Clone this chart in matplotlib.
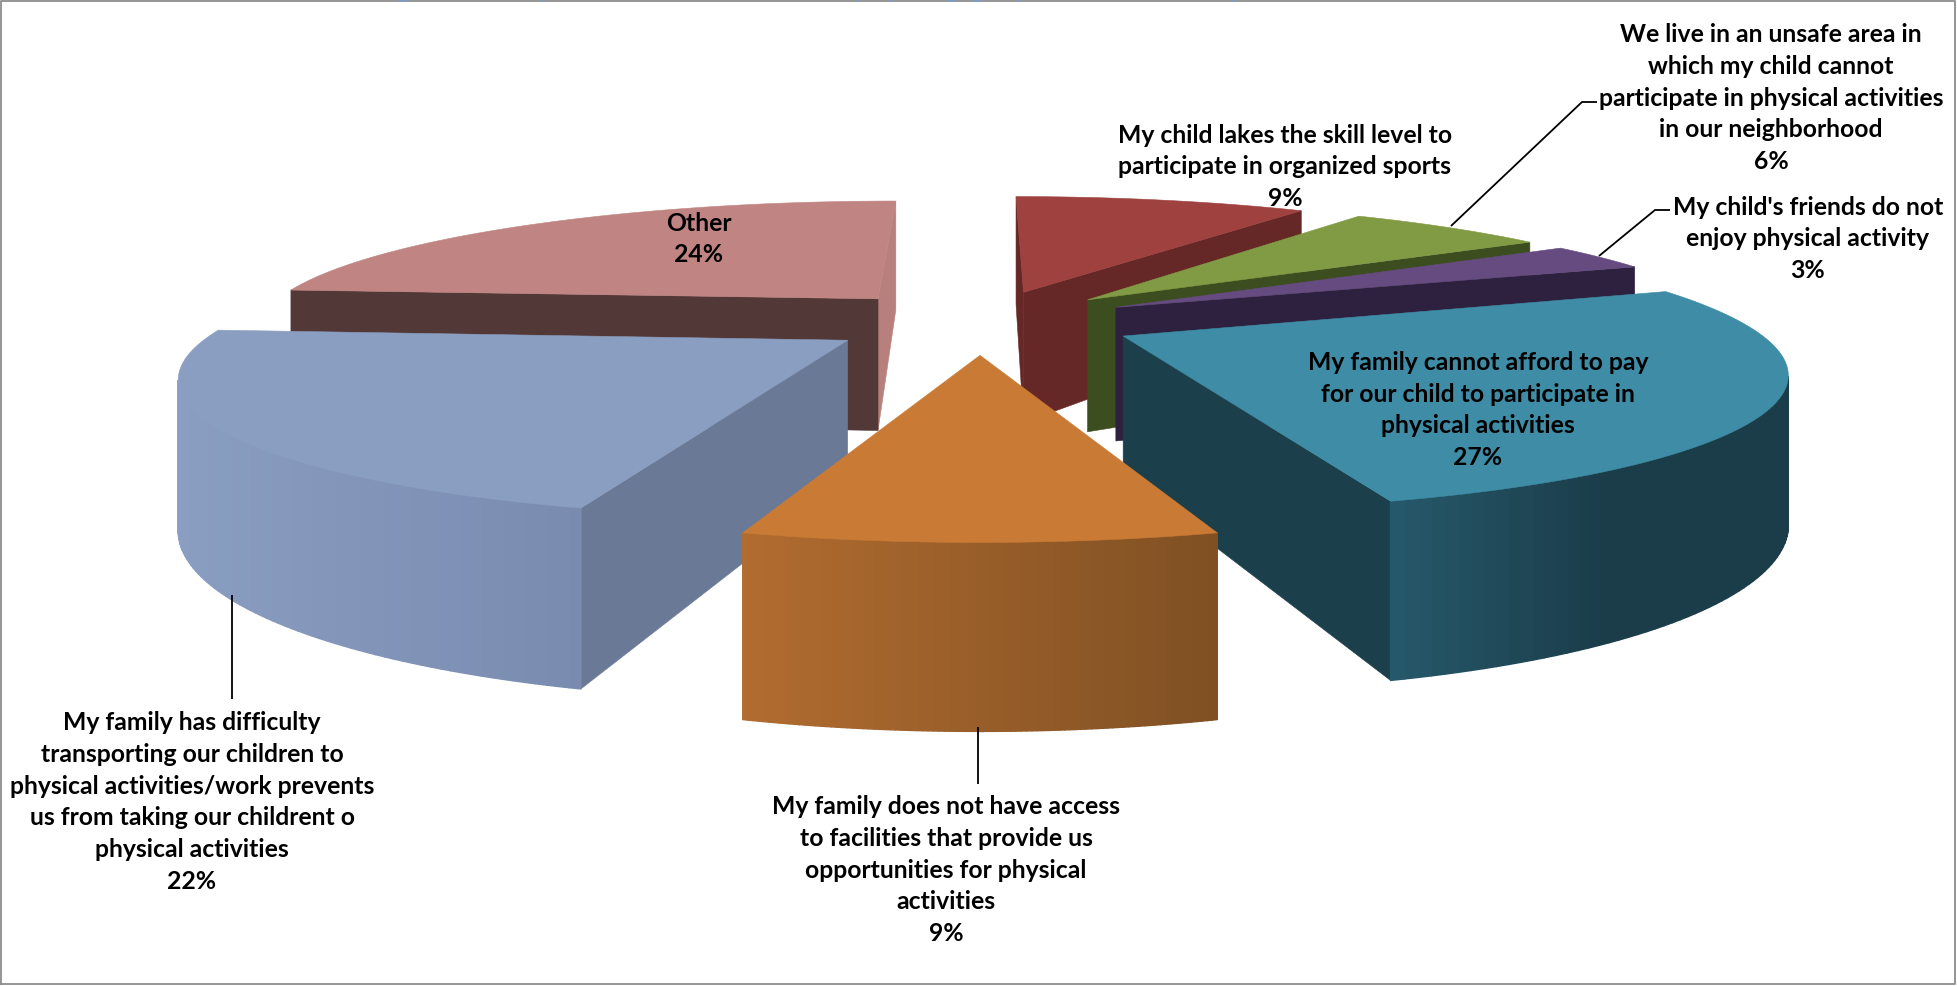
import numpy as np
import matplotlib
matplotlib.use("Agg")
import matplotlib.pyplot as plt
from matplotlib.collections import PolyCollection
from matplotlib.colors import to_rgb

# ---- data (clockwise from 12 o'clock) ----
percent_labels = [9, 6, 3, 27, 9, 22, 24]
# angular share of each slice as it reads in the perspective drawing
shares = [9.5, 6.4, 3.3, 26.3, 9.0, 21.7, 23.8]
labels = [
    "My child lakes the skill level to\nparticipate in organized sports",
    "We live in an unsafe area in\nwhich my child cannot\nparticipate in physical activities\nin our neighborhood",
    "My child's friends do not\nenjoy physical activity",
    "My family cannot afford to pay\nfor our child to participate in\nphysical activities",
    "My family does not have access\nto facilities that provide us\nopportunities for physical\nactivities",
    "My family has difficulty\ntransporting our children to\nphysical activities/work prevents\nus from taking our childrent o\nphysical activities",
    "Other",
]
top_colors = ["#9E413F", "#819B45", "#664B80", "#3E8CA5", "#C97A35", "#8A9EC1", "#C08583"]
wall_left = ["#9E413F", "#819B45", "#664B80", "#265A6C", "#B26C30", "#8A9EC1", "#C08583"]
wall_right = ["#7A302E", "#5A6E30", "#463358", "#1B3C49", "#7F5023", "#7A8BB0", "#C08583"]
wall_fade = [1, 1, 1, 0.55, 1, 1, 1]
start_face = ["#662826", "#3C4D20", "#2E2140", "#1C3F4C", "#7F5023", "#6A7A96", "#533838"]
end_face = ["#662826", "#3C4D20", "#2E2140", "#1C3F4C", "#B26C30", "#6A7A96", "#B8807D"]
label_pos = [(1285, 167), (1771, 98), (1808, 239), (1478, 410), (946, 870), (192, 802), (699, 239)]

W, H = 1957, 987
# camera of the 3-D pie
CX, CY, AX, BY, DEPTH, PERSP, EXPLODE = 980, 322.4, 624, 128.2, 137, 0.22, 0.25


def project(x, y, z):
    w = 1 + PERSP * y
    return CX + AX * x / w, CY - BY * y / w + DEPTH * z / w


def signed_area(p):
    s = 0
    for i in range(len(p)):
        x0, y0 = p[i]
        x1, y1 = p[(i + 1) % len(p)]
        s += x0 * y1 - x1 * y0
    return s


fig = plt.figure(figsize=(W / 100, H / 100), dpi=100, facecolor="white")
ax = fig.add_axes([0, 0, 1, 1])
ax.set_xlim(0, W)
ax.set_ylim(H, 0)
ax.axis("off")

fractions = np.cumsum([0] + shares) / sum(shares) * 2 * np.pi
paint_order = [6, 0, 1, 2, 5, 3, 4]

for z_i, i in enumerate(paint_order):
    t0, t1 = fractions[i], fractions[i + 1]
    mid = (t0 + t1) / 2
    ox, oy = EXPLODE * np.sin(mid), EXPLODE * np.cos(mid)
    th = np.linspace(t0, t1, 90)
    rx, ry = ox + np.sin(th), oy + np.cos(th)
    apex_t, apex_b = project(ox, oy, 0), project(ox, oy, 1)
    rim_t = [project(x, y, 0) for x, y in zip(rx, ry)]
    rim_b = [project(x, y, 1) for x, y in zip(rx, ry)]

    faces = [
        ([rim_t[-1], apex_t, apex_b, rim_b[-1]], end_face[i]),
        ([apex_t, rim_t[0], rim_b[0], apex_b], start_face[i]),
    ]
    for pts, col in faces:
        if signed_area(pts) < 0:
            ax.fill(*zip(*pts), color=col, lw=0.4, zorder=z_i * 10 + 1)

    polys, cols = [], []
    xs = np.array([p[0] for p in rim_t])
    lo, hi = xs.min(), xs.max()
    cl, cr = np.array(to_rgb(wall_left[i])), np.array(to_rgb(wall_right[i]))
    for k in range(len(th) - 1):
        pts = [rim_t[k], rim_t[k + 1], rim_b[k + 1], rim_b[k]]
        if signed_area(pts) < 0:
            f = min(1.0, (xs[k] - lo) / max(hi - lo, 1) / wall_fade[i])
            polys.append(pts)
            cols.append(tuple(cl + (cr - cl) * f))
    if polys:
        ax.add_collection(PolyCollection(polys, facecolors=cols, edgecolors=cols,
                                         linewidths=1.0, zorder=z_i * 10 + 2))
    ax.fill(*zip(*([apex_t] + rim_t)), color=top_colors[i], lw=0.4, zorder=z_i * 10 + 3)

# leader lines
leaders = [
    [(1451, 227), (1582, 103), (1597, 103)],
    [(1599, 257), (1655, 211), (1670, 211)],
    [(231.5, 596), (231.5, 700)],
    [(978, 728), (978, 785)],
]
for seg in leaders:
    ax.plot(*zip(*seg), color="black", lw=1.3, zorder=200, solid_capstyle="butt")

# labels
for i, (lab, (x, y)) in enumerate(zip(labels, label_pos)):
    ax.text(x, y, f"{lab}\n{percent_labels[i]}%", ha="center", va="center",
            family="Lato", weight="bold", fontsize=17.8, linespacing=1.46, color="black", zorder=300)

# frame
ax.plot([1, 1, 1955, 1955, 1], [985, 1.5, 1.5, 985, 985], color="#8C8C8C", lw=1.3, zorder=400)

# clipped remains of the title along the top edge
for x0, x1 in [(398, 408), (540, 544), (856, 859), (889, 893), (947, 955), (972, 981), (1017, 1021), (1231, 1235)]:
    ax.plot([x0, x1], [0.5, 0.5], color="#7F9CC4", lw=1.8, zorder=450, solid_capstyle="butt")

fig.savefig("out.png", dpi=100)
